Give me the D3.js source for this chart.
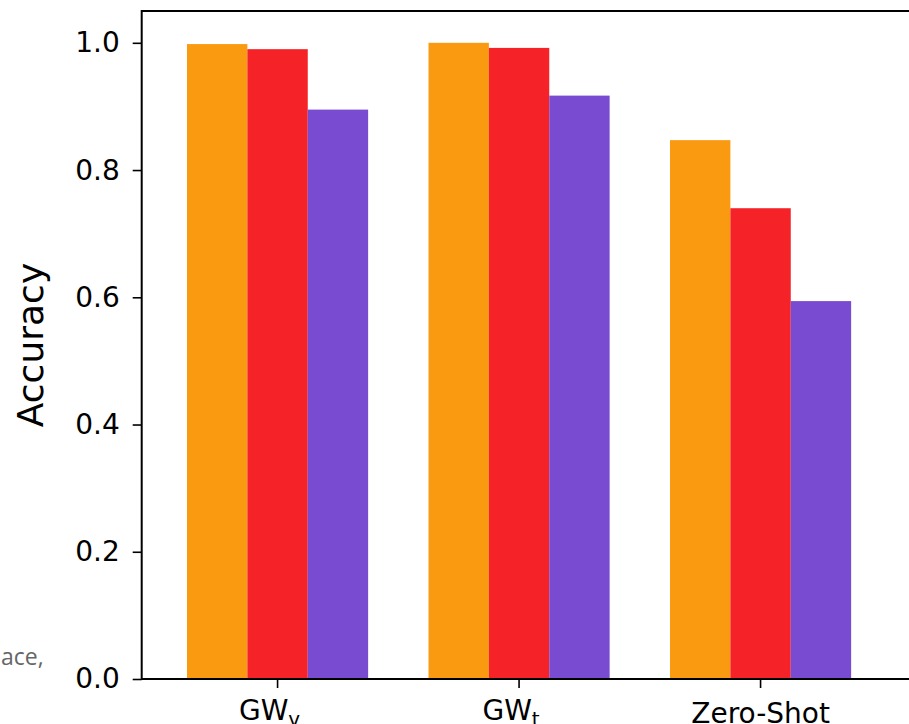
<!DOCTYPE html>
<html>
<head>
<meta charset="utf-8">
<script src="https://cdn.jsdelivr.net/npm/d3@7"></script>
<style>
  body { margin: 0; background: #fff; }
  svg { display: block; }
</style>
</head>
<body>
<div id="chart"></div>
<script>
// data
const categories = ['GW_v', 'GW_t', 'Zero-Shot'];
const seriesNames = ['orange', 'red', 'purple'];
const orangeValues = [0.998, 1.0, 0.847];
const redValues = [0.990, 0.992, 0.740];
const purpleValues = [0.895, 0.917, 0.594];
const yTicks = [0.0, 0.2, 0.4, 0.6, 0.8, 1.0];

const colors = {orange: '#fa9a10', red: '#f52227', purple: '#794bd0'};
const seriesValues = {orange: orangeValues, red: redValues, purple: purpleValues};

const width = 909, height = 724;
const plotLeft = 141.7, plotTop = 11, plotBottom = 679;

const svg = d3.select('#chart')
  .append('svg')
  .attr('width', width)
  .attr('height', height);

// category bands; the right part of the frame is cut off by the picture edge
const x0 = d3.scaleBand()
  .domain(categories)
  .range([plotLeft, plotLeft + 241.5 * (3 - 0.25 + 2 * 0.1876)])
  .paddingInner(0.25)
  .paddingOuter(0.1876);

const x1 = d3.scaleBand()
  .domain(seriesNames)
  .range([0, x0.bandwidth()]);

const y = d3.scaleLinear()
  .domain([0, 1.05])
  .range([plotBottom, plotTop]);

// bars
const groups = svg.append('g')
  .selectAll('g')
  .data(categories)
  .enter()
  .append('g')
  .attr('transform', d => `translate(${x0(d)},0)`);

groups.selectAll('rect')
  .data((c, i) => seriesNames.map(s => ({series: s, value: seriesValues[s][i]})))
  .enter()
  .append('rect')
  .attr('x', d => x1(d.series))
  .attr('width', x1.bandwidth())
  .attr('y', d => y(d.value))
  .attr('height', d => y(0) - y(d.value))
  .attr('fill', d => colors[d.series]);

// y axis
const yAxis = svg.append('g')
  .attr('transform', `translate(${plotLeft},0)`)
  .call(d3.axisLeft(y).tickValues(yTicks).tickFormat(d3.format('.1f')).tickSize(9).tickPadding(13));
yAxis.select('.domain').remove();
yAxis.selectAll('line').attr('stroke', '#000').attr('stroke-width', 1.6);
yAxis.selectAll('text')
  .attr('font-family', 'DejaVu Sans')
  .attr('font-size', 28)
  .attr('fill', '#000');

// x axis, labels with a subscript sit a little higher and left like mathtext
const xAxis = svg.append('g')
  .attr('transform', `translate(0,${plotBottom})`)
  .call(d3.axisBottom(x0).tickSize(9).tickPadding(15));
xAxis.select('.domain').remove();
xAxis.selectAll('line').attr('stroke', '#000').attr('stroke-width', 1.6);
xAxis.selectAll('text')
  .attr('font-family', 'DejaVu Sans')
  .attr('font-size', 28)
  .attr('fill', '#000')
  .attr('dy', null)
  .attr('y', 44)
  .each(function(d) {
    const t = d3.select(this);
    const parts = d.split('_');
    t.text(parts[0]);
    if (parts.length > 1) {
      t.attr('y', 40.5).attr('x', -8);
      t.append('tspan')
        .attr('font-size', 20)
        .attr('dy', 6.5)
        .text(parts[1]);
    }
  });

// spines (left, top, bottom)
svg.append('path')
  .attr('d', `M${width},${plotTop}H${plotLeft}V${plotBottom}H${width}`)
  .attr('fill', 'none')
  .attr('stroke', '#000')
  .attr('stroke-width', 2);

// y label
svg.append('text')
  .attr('transform', `translate(43,${(plotTop + plotBottom) / 2}) rotate(-90)`)
  .attr('text-anchor', 'middle')
  .attr('font-family', 'DejaVu Sans')
  .attr('font-size', 36)
  .attr('fill', '#000')
  .text('Accuracy');

// fragment of neighbouring text at the picture edge
svg.append('text')
  .attr('x', 1)
  .attr('y', 665)
  .attr('font-family', 'Open Sans')
  .attr('font-size', 23)
  .attr('fill', '#666')
  .text('ace,');
</script>
</body>
</html>
